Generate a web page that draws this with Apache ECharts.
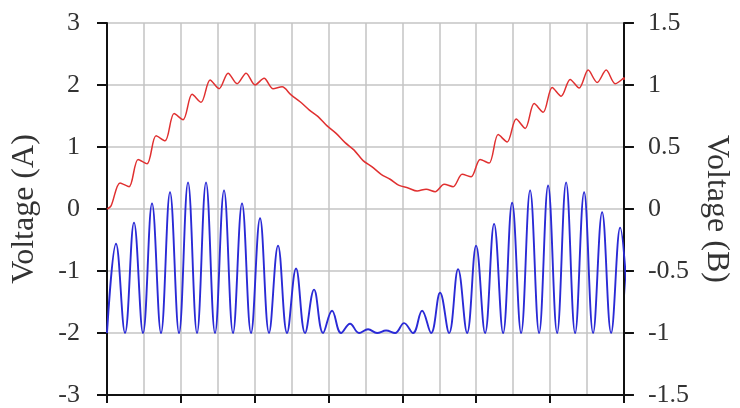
<!DOCTYPE html>
<html><head><meta charset="utf-8">
<script src="https://cdn.jsdelivr.net/npm/echarts@6/dist/echarts.min.js"></script>
<style>html,body{margin:0;padding:0;background:#fff}#c{width:740px;height:408px}</style>
</head><body><div id="c"></div>
<script>
// x spacing between samples (half a ripple period, in grid units)
const STEP = 0.2438;
const RED_PHASE = 0.45;
const xMax = 14;
const leftRange = [-3, 3];
const rightRange = [-1.5, 1.5];

// Voltage (A) – red trace, alternating ripple troughs / peaks
const redStart = 0;
const redValues = [
  0.05, 0.42, 0.36, 0.80, 0.73, 1.18, 1.10, 1.54, 1.44, 1.85,
  1.72, 2.08, 1.94, 2.19, 2.02, 2.19, 2.00, 2.11, 1.94, 1.97,
  1.84, 1.73, 1.60, 1.49, 1.34, 1.22, 1.07, 0.95, 0.78, 0.68,
  0.56, 0.48, 0.38, 0.34, 0.29, 0.32, 0.28, 0.40, 0.36, 0.56,
  0.52, 0.80, 0.74, 1.20, 1.08, 1.45, 1.30, 1.70, 1.56, 1.96,
  1.82, 2.09, 1.95, 2.24, 2.04, 2.24, 2.02, 2.12
];
const redEnd = 2.08;

// Voltage (B) – blue trace, alternating troughs / peaks
const blueValues = [
  -1, -0.28, -1, -0.11, -1, 0.045, -1, 0.135, -1, 0.215,
  -1, 0.215, -1, 0.15, -1, 0.045, -1, -0.075, -1, -0.295,
  -1, -0.48, -1, -0.65, -1, -0.82, -1, -0.925, -1, -0.97,
  -1, -0.98, -1, -0.92, -1, -0.82, -1, -0.675, -1, -0.485,
  -1, -0.295, -1, -0.12, -1, 0.05, -1, 0.15, -1, 0.19,
  -1, 0.215, -1, 0.135, -1, -0.025, -1, -0.15, -1
];

const redData = [[0, redStart]]
  .concat(redValues.map((v, k) => [(k + RED_PHASE) * STEP, v]))
  .concat([[xMax, redEnd]]);
const blueData = blueValues.map((v, k) => [k * STEP, v]);

const grid = '#c4c4c4';
const serif = "'Liberation Serif', 'Times New Roman', serif";

const chart = echarts.init(document.getElementById('c'), null, {renderer: 'canvas'});
chart.setOption({
  animation: false,
  backgroundColor: '#fff',
  grid: {left: 107, right: 112, top: 23, bottom: 12, containLabel: false},
  xAxis: {
    type: 'value', min: 0, max: xMax, interval: 2,
    axisLine: {onZero: false, lineStyle: {color: '#111', width: 2}},
    axisTick: {show: true, length: 8, lineStyle: {color: '#111', width: 2}},
    axisLabel: {show: false},
    splitLine: {show: true, lineStyle: {color: grid, width: 1.5}},
    minorTick: {show: false, splitNumber: 2},
    minorSplitLine: {show: true, lineStyle: {color: grid, width: 1.5}}
  },
  yAxis: [{
    type: 'value', min: leftRange[0], max: leftRange[1], interval: 1,
    position: 'left',
    name: 'Voltage (A)', nameLocation: 'middle', nameGap: 66,
    nameTextStyle: {fontFamily: serif, fontSize: 32, color: '#333'},
    axisLine: {show: true, onZero: false, lineStyle: {color: '#111', width: 2}},
    axisTick: {show: true, length: 10, lineStyle: {color: '#111', width: 2}},
    axisLabel: {fontFamily: serif, fontSize: 26, color: '#333', margin: 27},
    splitLine: {show: true, lineStyle: {color: grid, width: 1.5}}
  }, {
    type: 'value', min: rightRange[0], max: rightRange[1], interval: 0.5,
    position: 'right',
    name: 'Voltage (B)', nameLocation: 'middle', nameGap: 72, nameRotate: -90,
    nameTextStyle: {fontFamily: serif, fontSize: 32, color: '#333'},
    axisLine: {show: true, onZero: false, lineStyle: {color: '#111', width: 2}},
    axisTick: {show: true, length: 10, lineStyle: {color: '#111', width: 2}},
    axisLabel: {fontFamily: serif, fontSize: 26, color: '#333', margin: 24},
    splitLine: {show: false}
  }],
  series: [{
    name: 'Voltage (A)', type: 'line', yAxisIndex: 0, data: redData,
    showSymbol: false, smooth: 0.3, clip: true,
    lineStyle: {color: '#e03030', width: 1.5}
  }, {
    name: 'Voltage (B)', type: 'line', yAxisIndex: 1, data: blueData,
    showSymbol: false, smooth: 0.4, clip: true,
    lineStyle: {color: '#2a2ad6', width: 1.9}
  }]
});
</script>
</body></html>
